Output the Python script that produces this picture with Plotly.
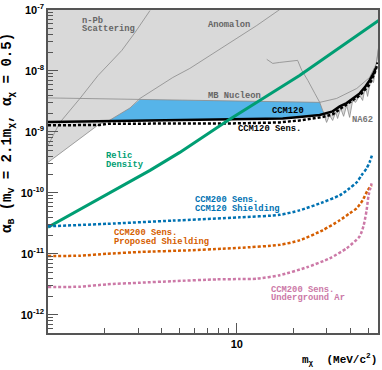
import plotly.graph_objects as go

# --- data (m_chi in MeV, alpha_B) ---
relic_m = [1.0, 3.47, 4.99, 8.96, 21.5, 56.4]
relic_a = [2.72e-11, 2.34e-10, 4.61e-10, 1.54e-9, 8.4e-9, 6.7e-8]

ccm120_m = [1.0, 2.08, 3.47, 10.37, 17.5, 21.5, 27.5, 32.2, 35.1, 38.2, 42.0, 44.8, 48.0, 50.5, 53.0, 54.4]
ccm120_a = [1.45e-9, 1.50e-9, 1.54e-9, 1.60e-9, 1.66e-9, 1.76e-9, 1.90e-9, 2.17e-9, 2.62e-9, 2.97e-9,
            3.68e-9, 4.28e-9, 5.57e-9, 6.98e-9, 9.1e-9, 1.10e-8]

sens120_m = [1.0, 1.88, 2.08, 5.64, 10.37, 16.9, 21.5, 28.5, 32.2, 36.4, 39.6, 44.8, 50.5, 54.4, 55.7]
sens120_a = [1.28e-9, 1.30e-9, 1.36e-9, 1.35e-9, 1.38e-9, 1.43e-9, 1.54e-9, 1.75e-9, 1.94e-9, 2.55e-9,
             3.05e-9, 3.96e-9, 6.0e-9, 1.02e-8, 1.38e-8]

# CCM120 excluded region, upper edge (anomalon edge then MB nucleon)
ccm120_top_m = [2.08, 2.46, 2.72, 3.07, 10.37, 27.5, 28.5, 29.2]
ccm120_top_a = [1.50e-9, 2.01e-9, 2.47e-9, 3.41e-9, 3.16e-9, 3.05e-9, 2.25e-9, 1.95e-9]

# grey excluded region, lower edge pieces
tri_m = [1.0, 1.88]
tri_a = [3.16e-10, 1.36e-9]
na62_m = [28.9, 29.9, 31.0, 32.2, 33.4, 34.2, 35.5, 36.8, 38.2, 39.6, 41.1, 42.6, 44.8, 46.4, 48.0,
          49.3, 51.2, 53.0, 55.0, 56.4]
na62_a = [1.94e-9, 1.43e-9, 1.86e-9, 1.54e-9, 2.09e-9, 1.66e-9, 2.43e-9, 1.80e-9, 2.72e-9, 1.73e-9,
          3.28e-9, 3.05e-9, 3.96e-9, 3.28e-9, 5.57e-9, 3.82e-9, 6.98e-9, 6.47e-9, 1.33e-8, 2.43e-8]

npb_m = [1.0, 1.157, 1.477, 1.84, 2.46, 2.89, 3.47]
npb_a = [6.0e-10, 1.43e-9, 3.54e-9, 8.4e-9, 2.17e-8, 4.27e-8, 9.8e-8]

anom_m = [2.08, 2.46, 2.72, 3.07, 4.58, 5.64, 8.43, 12.76, 16.9]
anom_a = [1.50e-9, 2.01e-9, 2.47e-9, 3.54e-9, 7.8e-9, 1.10e-8, 2.43e-8, 5.57e-8, 1.02e-7]

mb_m = [1.0, 3.07, 10.37, 27.5, 33.8, 43.2, 50.5, 55.0, 56.4]
mb_a = [3.61e-9, 3.41e-9, 3.16e-9, 3.05e-9, 3.54e-9, 5.16e-9, 7.8e-9, 1.33e-8, 2.43e-8]

edge_m = [14.41, 15.5, 16.9, 21.0, 22.1, 23.8, 25.9, 27.5, 28.5, 29.6]
edge_a = [1.55e-8, 1.33e-8, 1.38e-8, 1.49e-8, 1.02e-8, 6.98e-9, 4.28e-9, 3.05e-9, 2.25e-9, 1.73e-9]

shield_m = [1.0, 2.05, 4.58, 10.37, 16.9, 21.5, 28.5, 35.1, 39.6, 43.2, 45.8, 48.7, 50.5, 52.4]
shield_a = [2.82e-11, 3.10e-11, 3.50e-11, 3.96e-11, 4.35e-11, 5.16e-11, 6.98e-11, 9.1e-11, 1.19e-10,
            1.49e-10, 1.94e-10, 2.52e-10, 3.16e-10, 4.45e-10]

proposed_m = [1.0, 1.477, 2.05, 3.07, 5.64, 8.43, 10.37, 16.9, 21.5, 28.5, 35.1, 39.6, 43.2, 46.4, 49.3, 51.8]
proposed_a = [9.2e-12, 9.3e-12, 1.0e-11, 1.07e-11, 1.14e-11, 1.21e-11, 1.25e-11, 1.40e-11, 1.66e-11,
              2.43e-11, 3.54e-11, 4.61e-11, 5.57e-11, 7.5e-11, 1.10e-10, 1.33e-10]

argon_m = [1.0, 1.477, 2.05, 3.07, 4.58, 7.84, 10.37, 12.76, 16.9, 23.5, 31.0, 38.2, 44.8, 47.0, 48.7,
           49.9, 51.8]
argon_a = [2.86e-12, 2.88e-12, 3.15e-12, 3.35e-12, 3.55e-12, 3.80e-12, 3.85e-12, 3.90e-12, 4.45e-12,
           6.0e-12, 8.4e-12, 1.23e-11, 1.94e-11, 2.93e-11, 5.16e-11, 9.1e-11, 1.43e-10]

y_ticks = [1e-12, 1e-11, 1e-10, 1e-9, 1e-8, 1e-7]
y_ticktext = ["10<sup>-12</sup>", "10<sup>-11</sup>", "10<sup>-10</sup>", "10<sup>-9</sup>",
              "10<sup>-8</sup>", "10<sup>-7</sup>"]

GREY = "#d9d9d9"
EDGE = "#8a8a8a"
SKY = "#56b4e9"
GREEN = "#009e73"
BLUE = "#0072b2"
ORANGE = "#d55e00"
PINK = "#cc79a7"
MONO = "Liberation Mono, Courier New, monospace"
SANS = "Liberation Sans, Arial, sans-serif"

W, H = 382, 370
ML, MR, MT, MB = 48, 4, 10, 37

fig = go.Figure()

# grey region: top of plot down to the lower edge
lo_m = tri_m + [m for m in ccm120_m if 2.0 <= m <= 27.6] + na62_m
lo_a = tri_a + [a for m, a in zip(ccm120_m, ccm120_a) if 2.0 <= m <= 27.6] + na62_a
gx = [0.9] + lo_m + [60, 60, 0.9]
gy = [tri_a[0]] + lo_a + [na62_a[-1], 2e-7, 2e-7]
fig.add_trace(go.Scatter(x=gx, y=gy, fill="toself", fillcolor=GREY, mode="lines",
                         line=dict(color=EDGE, width=0.8)))

# CCM120 region (blue)
low = [(m, a) for m, a in zip(ccm120_m, ccm120_a) if 2.08 <= m < 29.2]
bx = ccm120_top_m + [m for m, a in reversed(low)]
by = ccm120_top_a + [a for m, a in reversed(low)]
fig.add_trace(go.Scatter(x=bx, y=by, fill="toself", fillcolor=SKY, mode="lines",
                         line=dict(width=0)))

for xs, ys in [(npb_m, npb_a), (anom_m, anom_a), (mb_m, mb_a), (edge_m, edge_a)]:
    fig.add_trace(go.Scatter(x=xs, y=ys, mode="lines", line=dict(color=EDGE, width=0.8)))

fig.add_trace(go.Scatter(x=ccm120_m, y=ccm120_a, mode="lines", line=dict(color="black", width=2.5)))
fig.add_trace(go.Scatter(x=sens120_m, y=sens120_a, mode="lines",
                         line=dict(color="black", width=2.5, dash="3px,2px")))
fig.add_trace(go.Scatter(x=relic_m, y=relic_a, mode="lines", line=dict(color=GREEN, width=3)))

for xs, ys, c in [(shield_m, shield_a, BLUE), (proposed_m, proposed_a, ORANGE), (argon_m, argon_a, PINK)]:
    fig.add_trace(go.Scatter(x=xs, y=ys, mode="lines",
                             line=dict(color=c, width=2.5, dash="3px,2px", shape="spline", smoothing=0.6)))


def paper(px, py):
    return (px - ML) / (W - ML - MR), (H - MB - py) / (H - MT - MB)


def label(text, px, py, color, size=8.8, anchor="left", font=MONO):
    x, y = paper(px, py)
    fig.add_annotation(text=text, x=x, y=y, xref="paper", yref="paper", showarrow=False,
                       xanchor=anchor, yanchor="middle",
                       font=dict(family=font, size=size, color=color, weight="bold"))


label("n-Pb", 80, 21, "#666666")
label("Scattering", 80, 29, "#666666")
label("Anomalon", 206, 25, "#666666")
label("MB Nucleon", 206, 96, "#666666")
label("CCM120", 270, 110.5, "black")
label("CCM120 Sens.", 236, 128.5, "black")
label("NA62", 350, 120, "#777777")
label("Relic", 104, 155.5, GREEN)
label("Density", 104, 165, GREEN)
label("CCM200 Sens.", 193, 199.5, BLUE)
label("CCM120 Shielding", 193, 208.5, BLUE)
label("CCM200 Sens.", 112, 233, ORANGE)
label("Proposed Shielding", 112, 241.5, ORANGE)
label("CCM200 Sens.", 269, 289.5, PINK)
label("Underground Ar", 269, 298, PINK)

# axis titles
x, y = paper(379, 359)
fig.add_annotation(text="m<sub>χ</sub>  (MeV/c<sup>2</sup>)", x=x, y=y, xref="paper", yref="paper",
                   showarrow=False, xanchor="right", yanchor="middle",
                   font=dict(family=MONO, size=11, color="black", weight="bold"))
x, y = paper(8, 133)
fig.add_annotation(text="α<sub>B</sub> (m<sub>V</sub> = 2.1m<sub>χ</sub>, α<sub>χ</sub> = 0.5)",
                   x=x, y=y, xref="paper", yref="paper", textangle=-90,
                   showarrow=False, xanchor="center", yanchor="middle",
                   font=dict(family=MONO, size=14, color="black", weight="bold"))

y_minor = [k * 10.0 ** e for e in range(-13, -7) for k in range(2, 10)]
x_minor = [2, 3, 4, 5, 6, 7, 8, 9, 20, 30, 40, 50]

axis_common = dict(showline=True, linecolor="#555555", linewidth=1.5, mirror=True, showgrid=False,
                   zeroline=False, ticks="inside", ticklen=10, tickwidth=1.2, tickcolor="#555555",
                   automargin=False,
                   tickfont=dict(family=SANS, size=11, color="black", weight="bold"))

fig.update_xaxes(type="log", range=[0, 1.748], tickvals=[10], ticktext=["10"],
                 minor=dict(tickvals=x_minor, ticks="inside", ticklen=5, tickwidth=1, tickcolor="#555555",
                            showgrid=False),
                 **axis_common)
fig.update_yaxes(type="log", range=[-12.30, -7.0], tickvals=y_ticks, ticktext=y_ticktext,
                 minor=dict(tickvals=y_minor, ticks="inside", ticklen=5, tickwidth=1, tickcolor="#555555",
                            showgrid=False),
                 **axis_common)

fig.update_layout(width=W, height=H, margin=dict(l=ML, r=MR, t=MT, b=MB),
                  paper_bgcolor="white", plot_bgcolor="white", showlegend=False)

# drop the browser's default body margin so the figure fills the window
fig.write_html("out.html", config={"displayModeBar": False},
               post_script="document.body.style.margin = '0';")
